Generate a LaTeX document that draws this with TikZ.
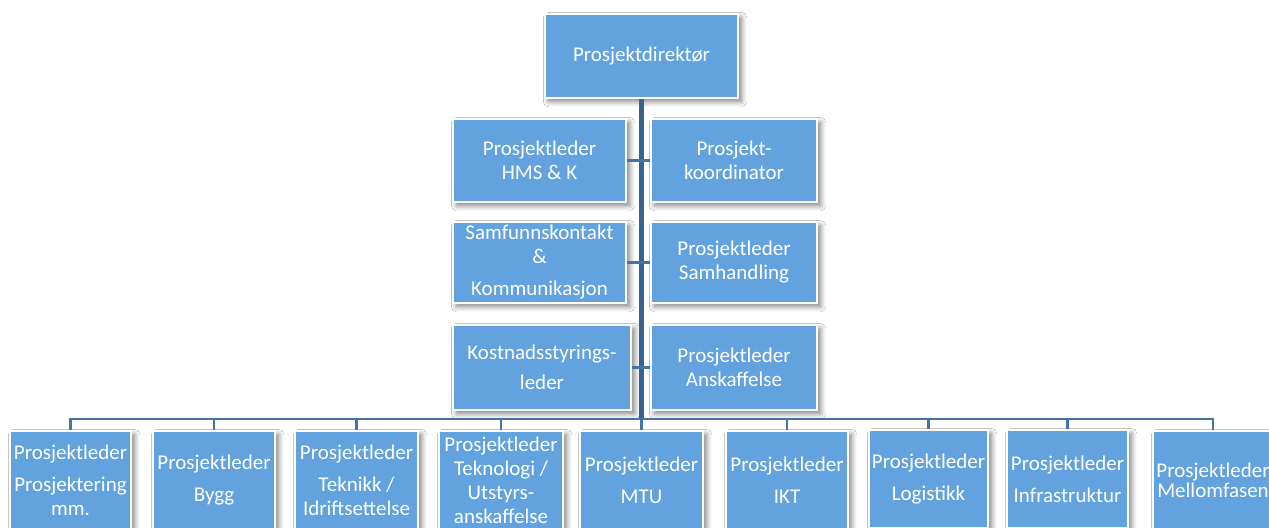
\documentclass[tikz,border=0pt]{standalone}
\usepackage{fontspec}
\setmainfont{Carlito}
\usetikzlibrary{shadows.blur}
\definecolor{boxblue}{RGB}{98,163,223}
\definecolor{lineblue}{RGB}{68,115,168}

\begin{document}
\begin{tikzpicture}[x=0.5pt,y=-0.5pt]
\useasboundingbox[fill=white] (0,0) rectangle (1269,528);

\begin{scope}[every node/.style={rectangle,draw=white,line width=0.8pt,fill=boxblue,
              text=white,align=center,inner sep=1pt,font=\fontsize{10.5}{12}\selectfont,
              blur shadow={shadow xshift=1.8pt,shadow yshift=-1.8pt,shadow blur radius=2.6pt,shadow blur steps=8,shadow opacity=50}}]
    \node[minimum width=96.5pt,minimum height=42pt] (1) at (641.5,56) {Prosjektdirektør};

    \node[minimum width=86.5pt,minimum height=41.5pt] (2) at (539.5,160.5) {Prosjektleder\\HMS \& K};
    \node[minimum width=83pt,minimum height=41.5pt] (3) at (734,160.5) {Prosjekt-\\koordinator};
    \node[minimum width=86.5pt,minimum height=40.5pt] (4) at (539.5,262.5) {Samfunnskontakt\\\&\\[4pt]Kommunikasjon};
    \node[minimum width=83pt,minimum height=40.5pt] (5) at (734,262.5) {Prosjektleder\\Samhandling};
    \node[minimum width=89pt,minimum height=42.5pt] (6) at (542,367.5) {Kostnadsstyrings-\\[3pt]leder};
    \node[minimum width=83pt,minimum height=42.5pt] (7) at (734,367.5) {Prosjektleder\\Anskaffelse};

    \node[minimum width=60.5pt,minimum height=49pt] (8) at (70.5,480) {Prosjektleder\\[4pt]Prosjektering\\mm.};
    \node[minimum width=61pt,minimum height=49pt] (9) at (214,480) {Prosjektleder\\[4pt]Bygg};
    \node[minimum width=61.5pt,minimum height=49pt] (10) at (356.5,480) {Prosjektleder\\[4pt]Teknikk /\\Idriftsettelse};
    \node[minimum width=62pt,minimum height=49pt] (11) at (501,480) {Prosjektleder\\Teknologi /\\Utstyrs-\\anskaffelse};
    \node[minimum width=61.5pt,minimum height=49pt] (12) at (641.5,480) {Prosjektleder\\[4pt]MTU};
    \node[minimum width=61pt,minimum height=49pt] (13) at (787,480) {Prosjektleder\\[4pt]IKT};
    \node[minimum width=59.5pt,minimum height=49pt] (14) at (928.5,479) {Prosjektleder\\[4pt]Logistikk};
    \node[minimum width=60.5pt,minimum height=49pt] (15) at (1067.5,479) {Prosjektleder\\[4pt]Infrastruktur};
    \node[minimum width=60pt,minimum height=49pt] (16) at (1213,480) {Prosjektleder\\[-2pt]Mellomfasen};
\end{scope}

\coordinate (bus) at (641.5,419);

\begin{scope}[every edge/.style={draw=lineblue,line width=1.5pt}]
    \path [-] (1) edge[line width=2.3pt,draw=lineblue!85!black] (bus);
    \path [-] (2) edge (3);
    \path [-] (4) edge (5);
    \path [-] (6) edge (7);
\end{scope}

\begin{scope}[draw=lineblue,line width=1.3pt]
    \draw (bus) -| (8);
    \draw (bus) -| (9);
    \draw (bus) -| (10);
    \draw (bus) -| (11);
    \draw (bus) -- (12);
    \draw (bus) -| (13);
    \draw (bus) -| (14);
    \draw (bus) -| (15);
    \draw (bus) -| (16);
\end{scope}
\end{tikzpicture}
\end{document}
